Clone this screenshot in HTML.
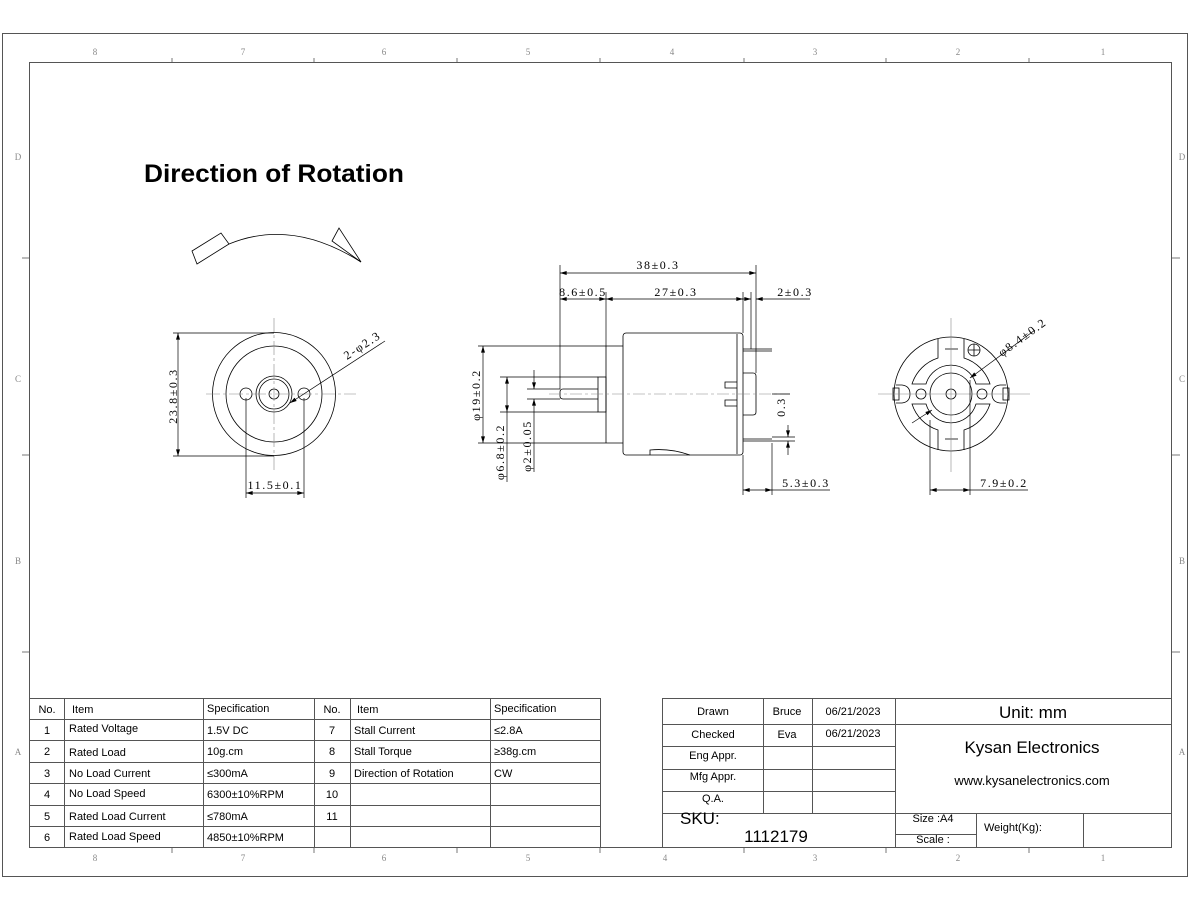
<!DOCTYPE html>
<html><head><meta charset="utf-8"><style>
html,body{margin:0;padding:0;background:#fff;width:1200px;height:910px;overflow:hidden}
svg{display:block}
text{font-family:"Liberation Sans",sans-serif;fill:#000}
.s{font-family:"Liberation Serif",serif;font-size:12px;letter-spacing:1.6px}
.g{fill:#888;font-family:"Liberation Serif",serif;font-size:9px}
</style></head><body>
<svg width="1200" height="910" viewBox="0 0 1200 910" xmlns="http://www.w3.org/2000/svg">
<defs>
<marker id="a" viewBox="0 0 10 6" refX="10" refY="3" markerWidth="10" markerHeight="4" orient="auto-start-reverse" markerUnits="userSpaceOnUse"><path d="M0,0 L10,3 L0,6z" fill="#000"/></marker>
</defs>
<g fill="none" stroke="#555" stroke-width="1">
<rect x="2.5" y="33.5" width="1185" height="843"/>
<rect x="29.5" y="62.5" width="1142" height="785"/>
</g>
<g stroke="#777" stroke-width="1">
<line x1="172" y1="58" x2="172" y2="62"/><line x1="314" y1="58" x2="314" y2="62"/><line x1="457" y1="58" x2="457" y2="62"/><line x1="600" y1="58" x2="600" y2="62"/><line x1="744" y1="58" x2="744" y2="62"/><line x1="886" y1="58" x2="886" y2="62"/><line x1="1029" y1="58" x2="1029" y2="62"/>
<line x1="172" y1="848" x2="172" y2="853"/><line x1="314" y1="848" x2="314" y2="853"/><line x1="457" y1="848" x2="457" y2="853"/><line x1="600" y1="848" x2="600" y2="853"/><line x1="744" y1="848" x2="744" y2="853"/><line x1="886" y1="848" x2="886" y2="853"/><line x1="1029" y1="848" x2="1029" y2="853"/>
<line x1="22" y1="258" x2="29" y2="258"/><line x1="22" y1="455" x2="29" y2="455"/><line x1="22" y1="652" x2="29" y2="652"/>
<line x1="1172" y1="258" x2="1180" y2="258"/><line x1="1172" y1="455" x2="1180" y2="455"/><line x1="1172" y1="652" x2="1180" y2="652"/>
</g>
<g class="g" text-anchor="middle">
<text class="g" x="95" y="55">8</text><text class="g" x="243" y="55">7</text><text class="g" x="384" y="55">6</text><text class="g" x="528" y="55">5</text><text class="g" x="672" y="55">4</text><text class="g" x="815" y="55">3</text><text class="g" x="958" y="55">2</text><text class="g" x="1103" y="55">1</text>
<text class="g" x="95" y="861">8</text><text class="g" x="243" y="861">7</text><text class="g" x="384" y="861">6</text><text class="g" x="528" y="861">5</text><text class="g" x="665" y="861">4</text><text class="g" x="815" y="861">3</text><text class="g" x="958" y="861">2</text><text class="g" x="1103" y="861">1</text>
<text class="g" x="18" y="160">D</text><text class="g" x="18" y="382">C</text><text class="g" x="18" y="564">B</text><text class="g" x="18" y="755">A</text>
<text class="g" x="1182" y="160">D</text><text class="g" x="1182" y="382">C</text><text class="g" x="1182" y="564">B</text><text class="g" x="1182" y="755">A</text>
</g>
<text x="144" y="182" font-size="25" font-weight="bold" textLength="260" lengthAdjust="spacingAndGlyphs">Direction of Rotation</text>

<!-- rotation arrow -->
<g fill="none" stroke="#000" stroke-width="0.8">
<path d="M229,244 Q292,218 361,262"/>
<path d="M192,251 L221,233 L229,244 L197,264 Z"/>
<path d="M332,241 L339,228 L361,262 Z" fill="none"/>
</g>

<!-- left view -->
<g fill="none" stroke="#000" stroke-width="0.8">
<circle cx="274" cy="394" r="61.5"/>
<circle cx="274" cy="394" r="48"/>
<circle cx="274" cy="394" r="18"/>
<circle cx="274" cy="394" r="15"/>
<circle cx="274" cy="394" r="5"/>
<circle cx="246" cy="394" r="6"/>
<circle cx="304" cy="394" r="6"/>
</g>
<g stroke="#888" stroke-width="0.6" stroke-dasharray="14,3,3,3">
<line x1="206" y1="394" x2="356" y2="394"/><line x1="274" y1="318" x2="274" y2="470"/>
</g>
<g stroke="#000" stroke-width="0.7" fill="none">
<line x1="173" y1="333" x2="274" y2="333"/><line x1="173" y1="456" x2="274" y2="456"/>
<line x1="178" y1="333" x2="178" y2="456" marker-start="url(#a)" marker-end="url(#a)"/>
<line x1="246" y1="398" x2="246" y2="498"/><line x1="304" y1="398" x2="304" y2="498"/>
<line x1="246" y1="493" x2="304" y2="493" marker-start="url(#a)" marker-end="url(#a)"/>
<line x1="385" y1="341" x2="290" y2="403" marker-end="url(#a)"/>
</g>
<text class="s" transform="translate(177,396) rotate(-90)" text-anchor="middle">23.8±0.3</text>
<text class="s" x="275" y="489" text-anchor="middle">11.5±0.1</text>
<text class="s" transform="translate(347,360) rotate(-33)">2-φ2.3</text>

<!-- middle view -->
<g fill="none" stroke="#000" stroke-width="0.8">
<rect x="623" y="333" width="120" height="122" rx="3"/>
<line x1="737" y1="334" x2="737" y2="454"/>
<path d="M606,346 L623,346 M606,443 L623,443 M606,346 L606,443"/>
<rect x="598" y="377" width="8" height="35"/>
<path d="M598,389 L563,389 Q560,389 560,392 L560,396 Q560,399 563,399 L598,399"/>
<path d="M743,373 L753,373 Q756,373 756,376 L756,412 Q756,415 753,415 L743,415"/>
<path d="M737,382 L725,382 L725,388 L737,388 M737,400 L725,400 L725,406 L737,406"/>
<path d="M743,349 L772,349 M743,351 L772,351"/>
<path d="M743,439 L772,439 M743,441 L772,441"/>
<path d="M650,455 L650,450 Q670,448 690,455"/>
</g>
<line x1="549" y1="394" x2="790" y2="394" stroke="#888" stroke-width="0.6" stroke-dasharray="12,3,3,3"/>
<g stroke="#000" stroke-width="0.7" fill="none">
<line x1="560" y1="265" x2="560" y2="389"/><line x1="756" y1="265" x2="756" y2="373"/>
<line x1="606" y1="292" x2="606" y2="346"/><line x1="743" y1="292" x2="743" y2="333"/><line x1="751" y1="292" x2="751" y2="349"/>
<line x1="560" y1="273" x2="756" y2="273" marker-start="url(#a)" marker-end="url(#a)"/>
<line x1="560" y1="299" x2="606" y2="299" marker-start="url(#a)" marker-end="url(#a)"/>
<line x1="606" y1="299" x2="743" y2="299" marker-start="url(#a)" marker-end="url(#a)"/>
<line x1="739" y1="299" x2="751" y2="299" marker-end="url(#a)"/>
<line x1="810" y1="299" x2="756" y2="299" marker-end="url(#a)"/>
<line x1="478" y1="346" x2="606" y2="346"/><line x1="478" y1="443" x2="606" y2="443"/>
<line x1="483" y1="346" x2="483" y2="443" marker-start="url(#a)" marker-end="url(#a)"/>
<line x1="500" y1="377" x2="598" y2="377"/><line x1="500" y1="412" x2="598" y2="412"/>
<line x1="507" y1="377" x2="507" y2="412" marker-start="url(#a)" marker-end="url(#a)"/>
<line x1="527" y1="389" x2="560" y2="389"/><line x1="527" y1="399" x2="560" y2="399"/>
<line x1="534" y1="370" x2="534" y2="389" marker-end="url(#a)"/>
<line x1="534" y1="418" x2="534" y2="399" marker-end="url(#a)"/>
<line x1="534" y1="418" x2="534" y2="472"/>
<line x1="507" y1="412" x2="507" y2="482"/>
<line x1="772" y1="394" x2="790" y2="394"/>
<line x1="772" y1="437" x2="795" y2="437"/><line x1="772" y1="441" x2="795" y2="441"/>
<line x1="788" y1="425" x2="788" y2="437" marker-end="url(#a)"/>
<line x1="788" y1="455" x2="788" y2="441" marker-end="url(#a)"/>
<line x1="743" y1="455" x2="743" y2="495"/><line x1="772" y1="443" x2="772" y2="495"/>
<line x1="743" y1="490" x2="772" y2="490" marker-start="url(#a)" marker-end="url(#a)"/>
<line x1="772" y1="490" x2="830" y2="490"/>
</g>
<text class="s" x="658" y="269" text-anchor="middle">38±0.3</text>
<text class="s" x="583" y="296" text-anchor="middle">8.6±0.5</text>
<text class="s" x="676" y="296" text-anchor="middle">27±0.3</text>
<text class="s" x="795" y="296" text-anchor="middle">2±0.3</text>
<text class="s" x="806" y="487" text-anchor="middle">5.3±0.3</text>
<text class="s" transform="translate(480,395) rotate(-90)" text-anchor="middle">φ19±0.2</text>
<text class="s" transform="translate(504,452) rotate(-90)" text-anchor="middle">φ6.8±0.2</text>
<text class="s" transform="translate(531,446) rotate(-90)" text-anchor="middle">φ2±0.05</text>
<text class="s" transform="translate(785,407) rotate(-90)" text-anchor="middle">0.3</text>

<!-- right view -->
<g fill="none" stroke="#000" stroke-width="0.8">
<circle cx="951" cy="394" r="57"/>
<circle cx="951" cy="394" r="21"/>
<circle cx="951" cy="394" r="5"/>
<circle cx="921" cy="394" r="5"/>
<circle cx="982" cy="394" r="5"/>
<path d="M938,339 L938,358 A40,40 0 0 0 912,384 L926,384 A26,26 0 0 1 976,384 L990,384 A40,40 0 0 0 964,358 L964,339"/>
<path d="M938,450 L938,430 A40,40 0 0 1 912,404 L926,404 A26,26 0 0 0 976,404 L990,404 A40,40 0 0 1 964,430 L964,450"/>
<line x1="945" y1="349" x2="958" y2="349"/><line x1="945" y1="439" x2="958" y2="439"/>
<circle cx="974" cy="350" r="6"/>
<path d="M968,350 L980,350 M974,344 L974,356"/>
<path d="M896,385 L902,385 Q910,386 910,394 Q910,402 902,403 L896,403"/>
<rect x="893" y="388" width="6" height="12"/>
<path d="M1006,385 L1000,385 Q992,386 992,394 Q992,402 1000,403 L1006,403"/>
<rect x="1003" y="388" width="6" height="12"/>
</g>
<g stroke="#888" stroke-width="0.6">
<line x1="878" y1="394" x2="1030" y2="394"/><line x1="951" y1="318" x2="951" y2="472"/>
</g>
<g stroke="#000" stroke-width="0.7" fill="none">
<line x1="930" y1="420" x2="930" y2="495"/><line x1="970" y1="380" x2="970" y2="495"/>
<line x1="930" y1="490" x2="970" y2="490" marker-start="url(#a)" marker-end="url(#a)"/>
<line x1="970" y1="490" x2="1028" y2="490"/>
<line x1="1035" y1="330" x2="970" y2="378" marker-end="url(#a)"/>
<line x1="912" y1="423" x2="932" y2="410" marker-end="url(#a)"/>
</g>
<text class="s" x="1004" y="487" text-anchor="middle">7.9±0.2</text>
<text class="s" transform="translate(1002,357) rotate(-36)">φ8.4±0.2</text>

<!-- left table -->
<g stroke="#555" stroke-width="1" fill="none">
<line x1="29" y1="698.5" x2="600" y2="698.5"/>
<line x1="29" y1="719.5" x2="600" y2="719.5"/>
<line x1="29" y1="740.5" x2="600" y2="740.5"/>
<line x1="29" y1="762.5" x2="600" y2="762.5"/>
<line x1="29" y1="783.5" x2="600" y2="783.5"/>
<line x1="29" y1="805.5" x2="600" y2="805.5"/>
<line x1="29" y1="826.5" x2="600" y2="826.5"/>
<line x1="64.5" y1="698" x2="64.5" y2="847"/>
<line x1="203.5" y1="698" x2="203.5" y2="847"/>
<line x1="314.5" y1="698" x2="314.5" y2="847"/>
<line x1="350.5" y1="698" x2="350.5" y2="847"/>
<line x1="490.5" y1="698" x2="490.5" y2="847"/>
<line x1="600.5" y1="698" x2="600.5" y2="847"/>
</g>
<g font-size="11">
<text x="47" y="713" text-anchor="middle">No.</text><text x="72" y="713">Item</text><text x="207" y="712">Specification</text><text x="332" y="713" text-anchor="middle">No.</text><text x="357" y="713">Item</text><text x="494" y="712">Specification</text>
<text x="47" y="734" text-anchor="middle">1</text><text x="69" y="732">Rated Voltage</text><text x="207" y="734">1.5V DC</text><text x="332" y="734" text-anchor="middle">7</text><text x="354" y="734">Stall Current</text><text x="494" y="734">≤2.8A</text>
<text x="47" y="755" text-anchor="middle">2</text><text x="69" y="756">Rated Load</text><text x="207" y="755">10g.cm</text><text x="332" y="755" text-anchor="middle">8</text><text x="354" y="755">Stall Torque</text><text x="494" y="755">≥38g.cm</text>
<text x="47" y="777" text-anchor="middle">3</text><text x="69" y="777">No Load Current</text><text x="207" y="777">≤300mA</text><text x="332" y="777" text-anchor="middle">9</text><text x="354" y="777">Direction of Rotation</text><text x="494" y="777">CW</text>
<text x="47" y="798" text-anchor="middle">4</text><text x="69" y="797">No Load Speed</text><text x="207" y="798">6300±10%RPM</text><text x="332" y="798" text-anchor="middle">10</text>
<text x="47" y="820" text-anchor="middle">5</text><text x="69" y="820">Rated Load Current</text><text x="207" y="820">≤780mA</text><text x="332" y="820" text-anchor="middle">11</text>
<text x="47" y="841" text-anchor="middle">6</text><text x="69" y="840">Rated Load Speed</text><text x="207" y="841">4850±10%RPM</text>
</g>

<!-- right title block -->
<g stroke="#555" stroke-width="1" fill="none">
<rect x="662.5" y="698.5" width="509" height="149"/>
<line x1="662" y1="724.5" x2="1171" y2="724.5"/>
<line x1="662" y1="746.5" x2="895" y2="746.5"/>
<line x1="662" y1="769.5" x2="895" y2="769.5"/>
<line x1="662" y1="791.5" x2="895" y2="791.5"/>
<line x1="662" y1="813.5" x2="1171" y2="813.5"/>
<line x1="895" y1="834.5" x2="976" y2="834.5"/>
<line x1="763.5" y1="698" x2="763.5" y2="813"/>
<line x1="812.5" y1="698" x2="812.5" y2="813"/>
<line x1="895.5" y1="698" x2="895.5" y2="847"/>
<line x1="976.5" y1="813" x2="976.5" y2="847"/>
<line x1="1083.5" y1="813" x2="1083.5" y2="847"/>
</g>
<g font-size="11" text-anchor="middle">
<text x="713" y="715">Drawn</text><text x="787" y="715">Bruce</text><text x="853" y="715">06/21/2023</text>
<text x="713" y="738">Checked</text><text x="787" y="738">Eva</text><text x="853" y="737">06/21/2023</text>
<text x="713" y="759">Eng Appr.</text>
<text x="713" y="780">Mfg Appr.</text>
<text x="713" y="802">Q.A.</text>
<text x="1033" y="718" font-size="17">Unit: mm</text>
<text x="1032" y="753" font-size="17">Kysan Electronics</text>
<text x="1032" y="785" font-size="13">www.kysanelectronics.com</text>
<text x="933" y="822">Size :A4</text>
<text x="933" y="843">Scale :</text>
</g>
<text x="984" y="831" font-size="11">Weight(Kg):</text>
<text x="680" y="824" font-size="17">SKU:</text>
<text x="776" y="842" font-size="17" text-anchor="middle">1112179</text>
</svg>
</body></html>
